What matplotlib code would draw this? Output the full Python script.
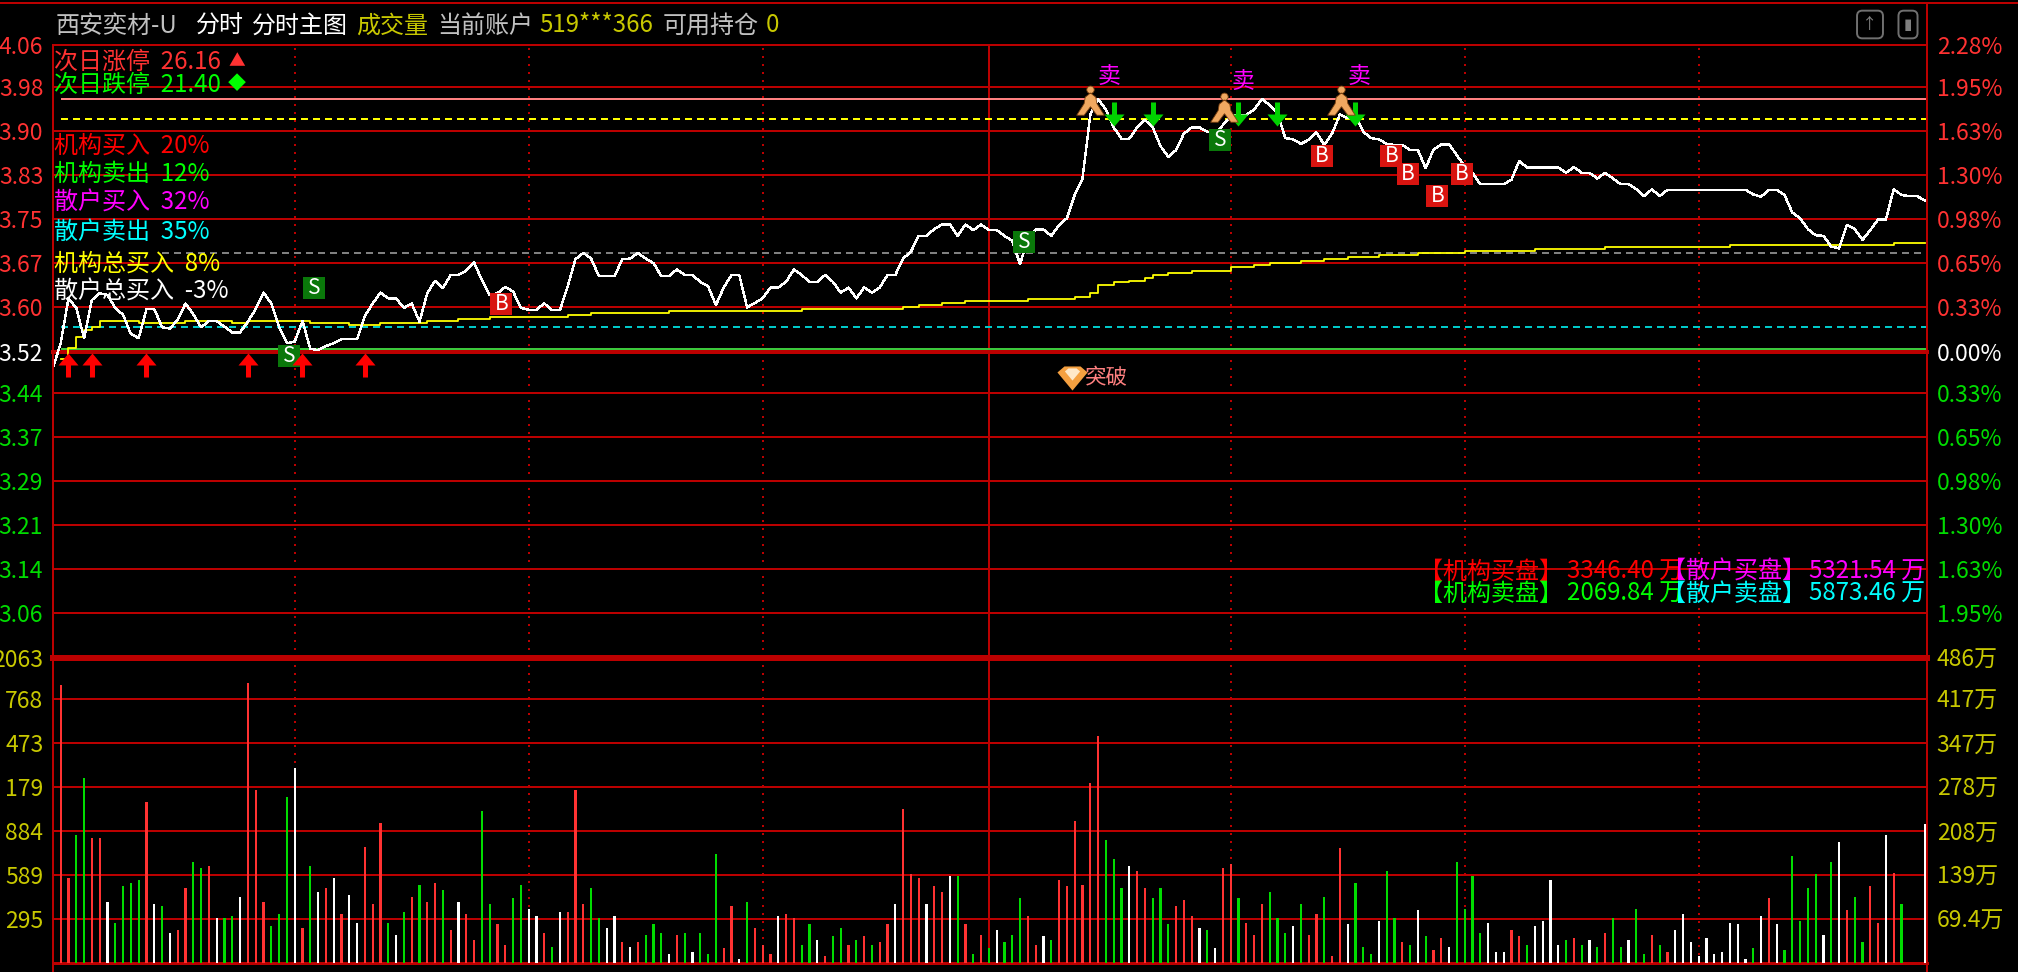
#!/usr/bin/python
"""Intraday price and volume panel, dark terminal style
"""

import numpy as np
import matplotlib
matplotlib.use("Agg")
import matplotlib.pyplot as plt
from matplotlib.lines import Line2D
from matplotlib.path import Path

plt.rcParams['font.family'] = ['Noto Sans CJK SC', 'DejaVu Sans']

W, H = 2018, 972

# price axis, left labels are rounded versions of price_grid
price_grid = [4.06, 3.986, 3.909, 3.831, 3.754, 3.676, 3.599, 3.5195, 3.447, 3.370, 3.292, 3.215, 3.137, 3.060]
price_labels = ["4.06", "3.98", "3.90", "3.83", "3.75", "3.67", "3.60", "3.52", "3.44", "3.37", "3.29", "3.21", "3.14", "3.06"]
pct_labels = ["2.28%", "1.95%", "1.63%", "1.30%", "0.98%", "0.65%", "0.33%", "0.00%", "0.33%", "0.65%", "0.98%", "1.30%", "1.63%", "1.95%"]

# volume axis, in units of 10k
vol_grid = [69.4, 139, 208, 278, 347, 417, 482]
vol_left_labels = ["295", "589", "884", "179", "473", "768", "2063"]
vol_right_labels = ["69.4万", "139万", "208万", "278万", "347万", "417万", "486万"]

# white price line, one value a minute from minute -1
price_values = [
    3.491, 3.535, 3.614, 3.597, 3.544, 3.611, 3.623, 3.620, 3.597, 3.585,
    3.551, 3.544, 3.595, 3.595, 3.563, 3.561, 3.576, 3.605, 3.586, 3.563,
    3.574, 3.574, 3.564, 3.554, 3.554, 3.573, 3.595, 3.624, 3.605, 3.564,
    3.535, 3.538, 3.574, 3.525, 3.523, 3.530, 3.535, 3.542, 3.542, 3.542,
    3.583, 3.605, 3.624, 3.614, 3.614, 3.597, 3.605, 3.573, 3.623, 3.645,
    3.632, 3.655, 3.655, 3.663, 3.677, 3.646, 3.620, 3.623, 3.634, 3.626,
    3.597, 3.594, 3.594, 3.605, 3.593, 3.593, 3.635, 3.683, 3.694, 3.684,
    3.653, 3.653, 3.653, 3.683, 3.684, 3.694, 3.684, 3.676, 3.653, 3.653,
    3.665, 3.655, 3.655, 3.643, 3.635, 3.602, 3.633, 3.655, 3.655, 3.598,
    3.606, 3.614, 3.633, 3.633, 3.643, 3.665, 3.655, 3.643, 3.643, 3.655,
    3.643, 3.624, 3.633, 3.614, 3.633, 3.624, 3.633, 3.655, 3.655, 3.684,
    3.696, 3.724, 3.724, 3.736, 3.744, 3.744, 3.724, 3.744, 3.734, 3.744,
    3.734, 3.734, 3.724, 3.715, 3.674, 3.720, 3.735, 3.735, 3.724, 3.743,
    3.755, 3.796, 3.825, 3.937, 3.965, 3.946, 3.915, 3.895, 3.895, 3.915,
    3.928, 3.915, 3.882, 3.863, 3.875, 3.904, 3.915, 3.915, 3.907, 3.904,
    3.919, 3.934, 3.937, 3.937, 3.946, 3.965, 3.954, 3.940, 3.896, 3.894,
    3.886, 3.893, 3.906, 3.884, 3.904, 3.938, 3.931, 3.934, 3.907, 3.896,
    3.894, 3.886, 3.884, 3.884, 3.875, 3.875, 3.843, 3.876, 3.885, 3.885,
    3.866, 3.846, 3.835, 3.815, 3.815, 3.815, 3.815, 3.823, 3.856, 3.844,
    3.844, 3.844, 3.844, 3.844, 3.835, 3.845, 3.835, 3.835, 3.825, 3.835,
    3.825, 3.815, 3.815, 3.806, 3.794, 3.806, 3.794, 3.805, 3.805, 3.805,
    3.805, 3.805, 3.805, 3.805, 3.805, 3.805, 3.805, 3.805, 3.797, 3.793,
    3.805, 3.805, 3.796, 3.765, 3.755, 3.736, 3.725, 3.724, 3.705, 3.702,
    3.743, 3.736, 3.717, 3.734, 3.753, 3.753, 3.806, 3.796, 3.794, 3.794,
    3.786,
]

# yellow average line, only the minutes where it moves
avg_minutes = [0, 1, 2, 3, 4, 5, 10, 16, 22, 24, 32, 37, 41, 47, 51, 55, 65, 68, 78, 95,
               108, 110, 113, 116, 124, 130, 132, 133, 135, 137, 139, 140, 142, 145, 150,
               153, 155, 159, 162, 165, 169, 174, 180, 189, 198, 214, 235, 239]
avg_values = [3.508, 3.526, 3.546, 3.558, 3.564, 3.574, 3.571, 3.574, 3.571, 3.574, 3.571,
              3.567, 3.571, 3.574, 3.578, 3.581, 3.585, 3.589, 3.592, 3.596, 3.599, 3.602,
              3.606, 3.610, 3.613, 3.617, 3.624, 3.638, 3.642, 3.645, 3.650, 3.655, 3.659,
              3.663, 3.670, 3.673, 3.677, 3.680, 3.684, 3.687, 3.691, 3.694, 3.698, 3.701,
              3.705, 3.708, 3.712, 3.712]

# volume per minute
vol_values = [
    440, 134, 203, 292, 197, 197, 96, 64, 121, 127,
    131, 254, 93, 90, 48, 52, 118, 159, 150, 153,
    71, 71, 74, 105, 443, 273, 96, 58, 77, 263,
    308, 55, 153, 112, 118, 134, 77, 108, 64, 184,
    93, 222, 64, 45, 80, 105, 124, 96, 127, 115,
    52, 96, 77, 36, 241, 93, 61, 29, 102, 124,
    86, 74, 48, 26, 80, 80, 273, 93, 118, 71,
    55, 74, 33, 26, 33, 45, 61, 48, 14, 45,
    48, 17, 48, 14, 172, 23, 90, 7, 96, 55,
    29, 14, 74, 77, 71, 29, 61, 36, 11, 42,
    55, 29, 36, 42, 29, 33, 61, 93, 244, 140,
    134, 93, 121, 112, 137, 137, 61, 14, 45, 23,
    52, 33, 45, 102, 74, 29, 42, 36, 131, 121,
    225, 124, 285, 358, 194, 165, 118, 153, 146, 118,
    102, 118, 61, 90, 99, 74, 55, 52, 23, 150,
    156, 102, 64, 45, 93, 112, 71, 48, 58, 93,
    45, 77, 105, 11, 181, 61, 127, 26, 14, 67,
    146, 71, 33, 29, 83, 42, 20, 39, 26, 159,
    86, 137, 48, 64, 17, 17, 52, 42, 29, 58,
    67, 131, 29, 36, 39, 29, 36, 26, 48, 71,
    26, 36, 86, 14, 45, 29, 17, 52, 77, 33,
    11, 39, 14, 17, 64, 61, 7, 23, 74, 102,
    61, 20, 169, 67, 118, 140, 45, 159, 191, 83,
    105, 33, 121, 64, 203, 143, 93, 0, 0, 219,
]
vol_kinds = (
    "RRGGRRWGGG" "GRWGWRRGGR" "WGGWRRRGGG" "WRGWRWRWWR"
    "RRGWGRGRRG" "RWRRGGRRGG" "WWRGWRRRGG" "WWRWRGGGWR"
    "GWGGGRRWGR" "RRWRRGGWRG" "GRGRGRRWRR" "RWRRWGRGRG"
    "WGGGRRWGRR" "RRRRGGGWRR" "GGGRRRWGWR" "RGRRRGGGWG"
    "RRGRRWGGGW" "GGRGWGRRWG" "GGGWWWRRGW" "WWWGRGWGRG"
    "GWGGRGRWWW" "WWWWWWWGWR" "WGGGGGWGWR" "GGRRWRGWWW"
)

# signal marks, minute and price
up_minutes = [1, 4, 11, 24, 31, 39]
down_minutes = [135, 140, 151, 156, 166]
s_minutes = [32.5, 29.3, 123.5, 148.6]
s_prices = [3.632, 3.513, 3.714, 3.893]
b_minutes = [56.5, 161.7, 170.6, 172.7, 179.6, 176.5]
b_prices = [3.604, 3.864, 3.864, 3.833, 3.833, 3.794]
sell_minutes = [132, 149.1, 164.1]
sell_prices = [3.959, 3.948, 3.959]
sell_text_minutes = [134.4, 151.6, 166.4]
sell_text_prices = [4.005, 3.995, 4.005]
gem_minute = 129.7
gem_price = 3.474

# reference levels
high_level = 3.965
open_level = 3.930
gray_level = 3.694
cyan_level = 3.5635
green_level = 3.5248

side_rows = [
    ("次日涨停  26.16", "#FF3232", 60),
    ("次日跌停  21.40", "#00FF00", 83),
    ("机构买入  20%", "#FF0000", 144),
    ("机构卖出  12%", "#00FF00", 172),
    ("散户买入  32%", "#FF00FF", 201),
    ("散户卖出  35%", "#00FFFF", 230),
    ("机构总买入  8%", "#FFFF00", 262),
    ("散户总买入  -3%", "#FFFFFF", 290),
]

RED_LINE = "#BB0000"
BAR_COLORS = {"R": "#FF3232", "G": "#00DC00", "W": "#FFFFFF"}


def box(left, top, right, bottom):
    return [left / W, 1 - bottom / H, (right - left) / W, (bottom - top) / H]


def ptext(x, y, s, color, size=17.3, **kw):
    fig.text(x / W, 1 - (y + 1.5) / H, s, color=color, fontsize=size, va="center", ha=kw.pop("ha", "left"), **kw)


def fline(x0, y0, x1, y1, lw=1.44):
    fig.add_artist(Line2D([x0 / W, x1 / W], [1 - y0 / H, 1 - y1 / H], color=RED_LINE, lw=lw, antialiased=False))


def arrow_path(direction):
    pts = [(0, 12), (10, 0), (2.5, 0), (2.5, -12), (-2.5, -12), (-2.5, 0), (-10, 0), (0, 12)]
    return Path([(x, y * direction) for x, y in pts], closed=True)


def set_ticks(ax, grid, labels, colors):
    ax.set_yticks(grid)
    ax.set_yticklabels(labels, fontsize=16.5)
    ax.tick_params(axis="y", length=0, pad=7)
    for lab, col in zip(ax.get_yticklabels(), colors):
        lab.set_color(col)
    for spine in ax.spines.values():
        spine.set_visible(False)


fig = plt.figure(figsize=(W / 100, H / 100), dpi=100, facecolor="black")
ax = fig.add_axes(box(53, 45, 1927, 658), facecolor="black")
vax = fig.add_axes(box(53, 658, 1927, 963), facecolor="black", sharex=ax)

xlim = (-0.987, 239.27)
ax.set_xlim(*xlim)
ax.set_ylim(2.9808, 4.06)
vax.set_ylim(0, 482)
ax.tick_params(axis="x", length=0, labelbottom=False)
vax.tick_params(axis="x", length=0, labelbottom=False)

# Axis labels
left_cols = ["#FF3232"] * 7 + ["#FFFFFF"] + ["#00DC00"] * 6
right_cols = ["#FF3232"] * 7 + ["#FFFFFF"] + ["#00DC00"] * 6
set_ticks(ax, price_grid, price_labels, left_cols)
rax = ax.twinx()
rax.set_ylim(ax.get_ylim())
set_ticks(rax, price_grid, pct_labels, right_cols)

olive = ["#C8C800"] * 7
set_ticks(vax, vol_grid, vol_left_labels, olive)
rvax = vax.twinx()
rvax.set_ylim(vax.get_ylim())
set_ticks(rvax, vol_grid, vol_right_labels, olive)

# Grid
for p in price_grid:
    ax.axhline(p, color=RED_LINE, lw=2.6 if p == 3.5195 else 1.44, zorder=1, antialiased=False, clip_on=False)
for v in vol_grid:
    vax.axhline(v, color=RED_LINE, lw=2.9 if v == 482 else 1.44, zorder=1, antialiased=False, clip_on=False)
vax.axhline(0, color=RED_LINE, lw=1.8, zorder=1, antialiased=False, clip_on=False)

for a in (ax, vax):
    a.axvline(119, color=RED_LINE, lw=1.44, zorder=1, antialiased=False)
    for m in (30, 60, 90, 150, 180, 210):
        a.axvline(m, color=RED_LINE, lw=1.44, ls=(0, (1, 3.2)), zorder=1, antialiased=False)

# outer frame
fline(0, 3, W, 3)
fline(53, 45, 53, 972)
fline(1927, 3, 1927, 972)

# Reference levels
ax.hlines(high_level, 0, xlim[1], color="#FF8080", lw=1.44, zorder=2, antialiased=False)
ax.hlines(open_level, 0, xlim[1], color="#FFFF00", lw=1.44, linestyles=(0, (3, 2.8)), zorder=2, antialiased=False)
ax.hlines(gray_level, 13, xlim[1], color="#808080", lw=1.44, linestyles=(0, (3, 2.8)), zorder=2, antialiased=False)
ax.hlines(cyan_level, 0, xlim[1], color="#00C8C8", lw=1.44, linestyles=(0, (3, 2.8)), zorder=2, antialiased=False)
ax.hlines(green_level, 0, xlim[1], color="#3CC83C", lw=1.44, zorder=2, antialiased=False)

# Price and average
ax.plot(np.arange(-1, 240), price_values, color="white", lw=1.0, zorder=4, antialiased=False)
ax.plot(avg_minutes, avg_values, color="#FFFF00", lw=1.3, drawstyle="steps-post", zorder=3)

# Volume bars
vax.bar(np.arange(240), vol_values, width=0.3, color=[BAR_COLORS[k] for k in vol_kinds],
        zorder=3, antialiased=False)

# Signals
ax.scatter(up_minutes, [3.4975] * len(up_minutes), marker=arrow_path(1), s=300, color="#FF0000",
           linewidths=0, zorder=6)
ax.scatter(down_minutes, [3.9385] * len(down_minutes), marker=arrow_path(-1), s=300, color="#00D200",
           linewidths=0, zorder=6)

ax.scatter(s_minutes, s_prices, marker="s", s=270, color="#0A780A", linewidths=0, zorder=5)
ax.scatter(b_minutes, b_prices, marker="s", s=270, color="#D81410", linewidths=0, zorder=5)
for xv, yv in zip(s_minutes, s_prices):
    ax.text(xv, yv, "S", color="white", fontsize=15, ha="center", va="center", zorder=5.5)
for xv, yv in zip(b_minutes, b_prices):
    ax.text(xv, yv, "B", color="white", fontsize=15, ha="center", va="center", zorder=5.5)

body = [(0, 9), (5, 5), (6, -1), (13, -12), (6, -12), (0, -4), (-6, -12), (-13, -12), (-6, -1), (-5, 5), (0, 9)]
person = Path.make_compound_path(Path.circle((0, 12), 3.5), Path(body, closed=True))
ax.scatter(sell_minutes, sell_prices, marker=person, s=560, color="#F0A860", edgecolors="#7A4010",
           linewidths=0.6, zorder=6)
for xv, yv in zip(sell_text_minutes, sell_text_prices):
    ax.text(xv, yv, "卖", color="#FF00FF", fontsize=16.5, ha="center", va="center", zorder=6)

gem = Path([(-15, 6), (-8, 12), (8, 12), (15, 6), (0, -12), (-15, 6)], closed=True)
ax.scatter([gem_minute], [gem_price], marker=gem, s=470, color="#F5A040", linewidths=0, zorder=6)
ax.scatter([gem_minute], [gem_price + 0.006], marker=gem, s=120, color="#FFE8C8", linewidths=0, zorder=6)
ax.text(gem_minute + 1.6, gem_price, "突破", color="#FF8080", fontsize=15.5, ha="left", va="center", zorder=6)

# Header
ptext(56, 24, "西安奕材-U", "#C0C0C0")
ptext(196, 24, "分时", "#FFFFFF")
ptext(252, 24, "分时主图", "#FFFFFF")
ptext(356, 24, "成交量", "#C8C800")
ptext(437, 24, "当前账户", "#C0C0C0")
ptext(539, 24, "519***366", "#C8C800")
ptext(663, 24, "可用持仓", "#C0C0C0")
ptext(766, 24, "0", "#C8C800")
for cx, glyph in ((1870, "↑"), (1908, "▮")):
    ptext(cx, 23, glyph, "#808080", size=11, ha="center",
          bbox=dict(boxstyle="round,pad=0.35", fc="black", ec="#707070", lw=1.4))

# Side list
for s, col, yp in side_rows:
    ptext(54, yp, s, col)
ptext(237, 60, "▲", "#FF3232", size=12, ha="center")
ptext(237, 83, "◆", "#00FF00", size=13, ha="center")

# Order book block
ptext(1419, 570, "【机构买盘】", "#FF0000")
ptext(1567, 570, "3346.40 万", "#FF0000")
ptext(1662, 570, "【散户买盘】", "#FF00FF")
ptext(1809, 570, "5321.54 万", "#FF00FF")
ptext(1419, 592, "【机构卖盘】", "#00FF00")
ptext(1567, 592, "2069.84 万", "#00FF00")
ptext(1662, 592, "【散户卖盘】", "#00FFFF")
ptext(1809, 592, "5873.46 万", "#00FFFF")

plt.savefig("out.png", dpi=100, facecolor="black")
